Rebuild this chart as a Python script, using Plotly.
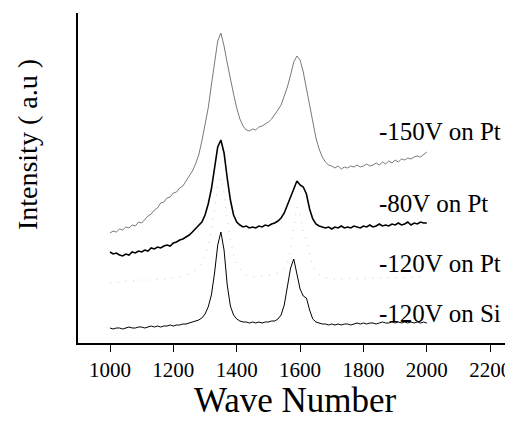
import plotly.graph_objects as go

# wave number grid, 10 cm-1 apart
wave = list(range(1000, 2001, 10))

# intensities (arbitrary units)
v150_pt = [110, 112, 111, 114, 113, 116, 115, 118, 117, 121,
           120, 124, 127, 129, 133, 135, 140, 141, 145, 146,
           150, 151, 155, 157, 162, 167, 172, 179, 188, 202,
           218, 235, 258, 281, 302, 310, 297, 280, 263, 249,
           235, 224, 217, 213, 212, 214, 213, 216, 217, 219,
           221, 224, 228, 233, 238, 246, 256, 268, 281, 287,
           283, 271, 254, 236, 219, 205, 194, 186, 181, 178,
           177, 175, 177, 174, 176, 175, 177, 176, 178, 176,
           177, 179, 177, 178, 180, 178, 181, 179, 182, 180,
           183, 181, 184, 183, 185, 184, 186, 187, 186, 189, 191]

v80_pt = [91, 89, 90, 88, 87, 89, 88, 91, 90, 92,
          91, 93, 92, 95, 94, 96, 95, 97, 98, 97,
          100, 101, 103, 104, 106, 108, 111, 114, 117, 121,
          128, 139, 154, 174, 196, 203, 190, 165, 143, 128,
          121, 118, 116, 117, 115, 116, 115, 117, 116, 118,
          117, 119, 120, 122, 125, 130, 138, 148, 156, 162,
          158, 156, 149, 134, 124, 119, 117, 116, 115, 116,
          114, 116, 115, 117, 115, 116, 115, 117, 116, 115,
          117, 116, 118, 116, 117, 119, 117, 118, 117, 119,
          118, 120, 118, 119, 121, 118, 120, 119, 121, 120, 120]

v120_pt = [60, 61, 60, 61, 61, 62, 61, 62, 62, 62,
           63, 62, 63, 63, 63, 64, 63, 64, 64, 65,
           65, 66, 66, 67, 68, 69, 71, 73, 76, 80,
           87, 97, 113, 135, 157, 165, 150, 124, 103, 89,
           80, 74, 70, 68, 67, 66, 66, 66, 67, 67,
           68, 68, 69, 70, 72, 75, 80, 92, 115, 136,
           128, 112, 102, 88, 77, 71, 68, 66, 65, 65,
           64, 64, 65, 64, 65, 64, 65, 65, 64, 65,
           65, 64, 65, 65, 66, 65, 65, 66, 65, 66,
           65, 66, 66, 65, 66, 66, 65, 66, 66, 65, 66]

v120_si = [15, 14, 15, 15, 14, 15, 16, 15, 15, 16,
           16, 15, 16, 17, 16, 17, 16, 17, 17, 18,
           17, 18, 18, 19, 19, 20, 21, 22, 23, 25,
           29, 36, 48, 70, 98, 111, 93, 58, 37, 28,
           24, 22, 21, 21, 20, 21, 20, 21, 20, 21,
           21, 22, 22, 24, 28, 38, 55, 75, 84, 70,
           54, 47, 45, 33, 24, 21, 20, 19, 19, 18,
           19, 18, 19, 18, 19, 19, 18, 19, 20, 19,
           20, 19, 20, 20, 19, 20, 21, 20, 20, 21,
           20, 21, 20, 21, 20, 21, 20, 21, 20, 21, 20]

names = ["-150V on Pt", "-80V on Pt", "-120V on Pt", "-120V on Si"]
label_y = [212, 140, 80, 30]
tick_vals = [1000, 1200, 1400, 1600, 1800, 2000, 2200]

serif = "Liberation Serif"

fig = go.Figure()
fig.add_trace(go.Scatter(x=wave, y=v150_pt, mode="lines",
                         line=dict(color="#7a7a7a", width=1)))
fig.add_trace(go.Scatter(x=wave, y=v80_pt, mode="lines",
                         line=dict(color="black", width=1.6)))
# this one is barely visible in the original, just scattered dots
fig.add_trace(go.Scatter(x=wave, y=v120_pt, mode="lines",
                         line=dict(color="#c8c8c8", width=1, dash="1px,7px")))
fig.add_trace(go.Scatter(x=wave, y=v120_si, mode="lines",
                         line=dict(color="black", width=1)))

for name, yy in zip(names, label_y):
    fig.add_annotation(x=1843, y=yy, text=name, showarrow=False,
                       xanchor="left", yanchor="middle",
                       font=dict(family=serif, size=25, color="black"))

fig.add_annotation(xref="paper", yref="paper", x=0.5, y=-0.173,
                   text="Wave Number", showarrow=False, yanchor="middle",
                   font=dict(family=serif, size=35, color="black"))
fig.add_annotation(xref="paper", yref="paper", x=-0.117, y=0.6,
                   text="Intensity ( a.u )", showarrow=False, textangle=-90,
                   xanchor="center", yanchor="middle",
                   font=dict(family=serif, size=28, color="black"))

fig.update_xaxes(range=[899, 2272], tickvals=tick_vals, ticks="outside",
                 ticklen=7, tickcolor="black", showline=True,
                 linecolor="black", linewidth=1.5, showgrid=False,
                 zeroline=False, automargin=False,
                 tickfont=dict(family=serif, size=21, color="black"))
fig.update_yaxes(range=[0, 330], showticklabels=False, showline=True,
                 linecolor="black", linewidth=1.5, showgrid=False,
                 zeroline=False, automargin=False)

# the page body adds an 8px offset, so the figure is 8px smaller
fig.update_layout(width=505, height=414, showlegend=False,
                  margin=dict(l=70, r=0, t=5, b=79),
                  plot_bgcolor="white", paper_bgcolor="white")

fig.write_html("out.html")
